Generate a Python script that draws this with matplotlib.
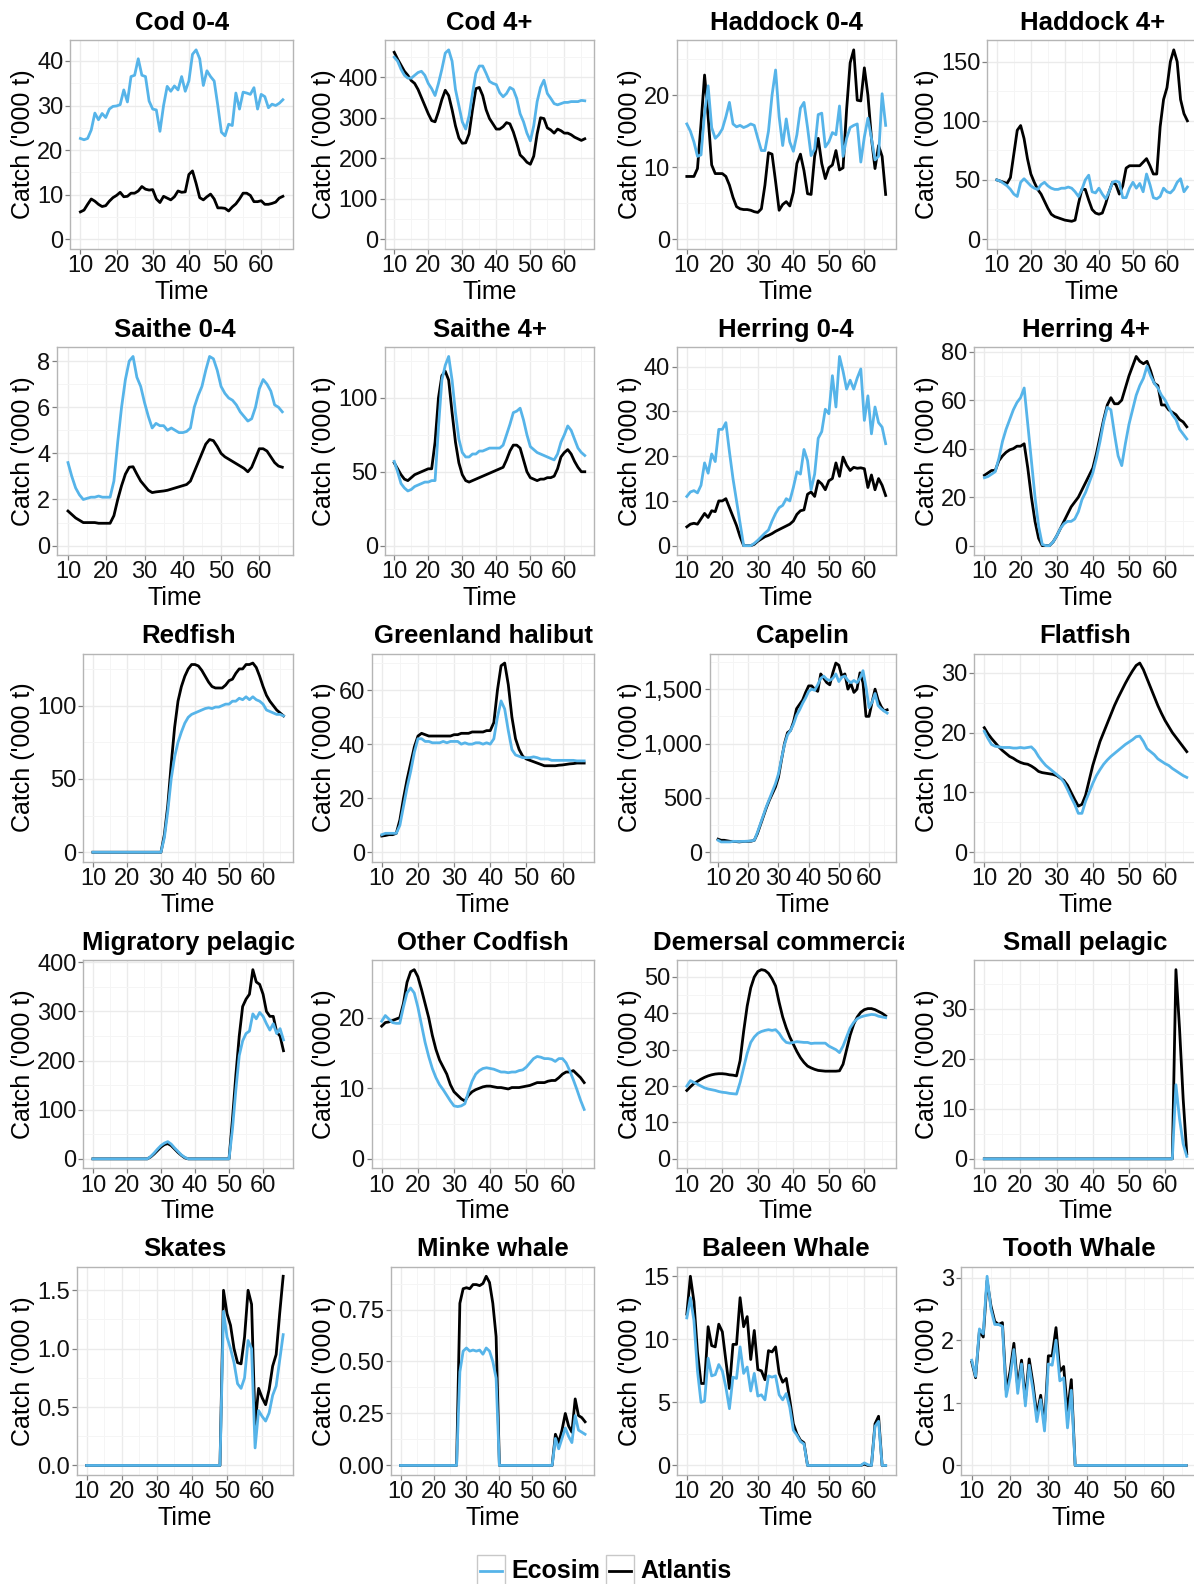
import matplotlib
matplotlib.use('Agg')
import matplotlib.pyplot as plt
from matplotlib.patches import Rectangle
from matplotlib.lines import Line2D
from matplotlib.transforms import Bbox, TransformedBbox
from matplotlib.ticker import FuncFormatter

plt.rcParams['font.family'] = ['Liberation Sans', 'DejaVu Sans']

years = list(range(10, 67))

# ---- catch series ('000 t), one value per year 10..66 ----
cod04_eco = [22.6, 22.3, 22.6, 24.5, 28.3, 26.8, 28.2, 27.3, 29.2, 29.8,
             29.9, 30.2, 33.5, 30.8, 36.5, 36.8, 40.5, 36.8, 36.5, 31.0,
             29.2, 29.0, 24.2, 30.0, 34.3, 33.2, 34.4, 33.5, 36.5, 33.2,
             35.5, 41.5, 42.5, 40.5, 34.5, 37.8, 36.5, 35.5, 30.0, 24.0,
             23.2, 25.8, 25.5, 32.8, 29.2, 33.0, 32.8, 32.5, 34.0, 29.2,
             32.5, 32.0, 29.5, 30.3, 30.0, 30.5, 31.3]
cod04_atl = [6.1, 6.5, 7.8, 9.0, 8.5, 7.8, 7.3, 7.5, 8.5, 9.3,
             9.8, 10.5, 9.5, 9.6, 10.3, 10.3, 10.8, 11.8, 11.2, 11.0,
             11.1, 9.0, 8.2, 9.6, 9.2, 8.8, 9.5, 10.8, 10.5, 10.6,
             14.5, 15.3, 12.5, 9.3, 8.8, 9.5, 10.1, 9.0, 7.0, 7.0,
             6.9, 6.3, 7.2, 7.9, 9.0, 10.3, 10.3, 9.8, 8.4, 8.4,
             8.6, 7.8, 7.8, 8.0, 8.3, 9.2, 9.6]

cod4p_eco = [450, 440, 420, 405, 398, 398, 405, 412, 415, 405,
             385, 372, 355, 385, 420, 460, 468, 440, 370, 330,
             290, 272, 305, 360, 410, 428, 428, 410, 390, 385,
             382, 362, 352, 360, 375, 370, 348, 310, 290, 262,
             243, 280, 340, 375, 393, 360, 348, 335, 332, 335,
             338, 338, 340, 340, 340, 343, 342]
cod4p_atl = [462, 445, 430, 415, 405, 392, 385, 370, 350, 330,
             310, 293, 290, 315, 345, 368, 355, 320, 280, 250,
             237, 238, 260, 320, 372, 375, 355, 320, 298, 285,
             272, 272, 278, 288, 285, 265, 238, 208, 200, 190,
             185, 205, 260, 300, 298, 275, 270, 262, 272, 268,
             262, 262, 258, 252, 248, 244, 248]

had04_eco = [16.0, 15.0, 13.5, 11.5, 11.7, 17.5, 21.3, 15.5, 14.0, 14.5,
             15.3, 17.0, 19.0, 16.0, 15.6, 15.8, 15.5, 15.7, 16.0, 15.8,
             14.0, 12.3, 12.3, 15.0, 20.0, 23.5, 17.0, 13.0, 16.7, 13.5,
             12.2, 14.5, 18.2, 19.0, 15.5, 11.6, 12.5, 17.3, 17.5, 12.8,
             13.5, 14.8, 14.5, 18.5, 11.5, 14.0, 15.5, 15.8, 16.0, 10.7,
             14.2, 16.8, 14.0, 11.0, 11.5, 20.2, 15.8]
had04_atl = [8.7, 8.7, 8.7, 9.8, 16.0, 22.8, 17.0, 10.3, 9.1, 9.1,
             9.1, 8.7, 7.5, 5.8, 4.5, 4.2, 4.1, 4.1, 4.0, 3.8,
             3.7, 4.2, 7.5, 12.0, 11.8, 8.0, 4.0, 4.8, 5.2, 4.6,
             6.5, 10.5, 11.8, 9.5, 6.3, 6.2, 11.5, 14.0, 10.5, 8.4,
             9.9, 10.3, 12.3, 9.6, 9.9, 18.0, 24.5, 26.3, 19.3, 19.2,
             23.8, 20.0, 14.0, 9.8, 13.0, 11.5, 6.2]

had4p_eco = [50, 49, 47, 45, 42, 38, 36, 48, 51, 48,
             45, 43, 42, 46, 48, 45, 43, 42, 42, 43,
             43, 44, 43, 40, 36, 42, 50, 54, 40, 39,
             43, 38, 34, 40, 48, 49, 48, 35, 35, 43,
             48, 43, 47, 40, 55, 46, 35, 34, 36, 43,
             40, 39, 42, 48, 51, 40, 44]
had4p_atl = [50, 49, 48, 47, 52, 72, 92, 96, 85, 68,
             55, 48, 42, 38, 32, 26, 21, 19, 18, 17,
             16, 15.5, 15, 16, 30, 42, 42, 33, 25, 22,
             21, 22, 30, 40, 48, 46, 38, 45, 60, 62,
             62, 62, 62, 65, 68, 62, 55, 55, 95, 118,
             128, 150, 160, 150, 118, 106, 100]

sai04_eco = [3.6, 3.0, 2.5, 2.2, 2.0, 2.05, 2.1, 2.1, 2.15, 2.1,
             2.1, 2.1, 2.8, 4.5, 6.0, 7.2, 8.0, 8.2, 7.3, 6.9,
             6.2, 5.6, 5.1, 5.3, 5.2, 5.2, 5.0, 5.1, 5.0, 4.9,
             4.9, 4.95, 5.1, 6.0, 6.5, 6.9, 7.6, 8.2, 8.1, 7.6,
             6.9, 6.6, 6.4, 6.3, 6.1, 5.8, 5.6, 5.4, 5.5, 6.0,
             6.8, 7.2, 7.0, 6.7, 6.1, 6.0, 5.8]
sai04_atl = [1.5, 1.35, 1.2, 1.1, 1.0, 1.0, 1.0, 1.0, 0.97, 0.97,
             0.97, 0.97, 1.3, 2.0, 2.6, 3.1, 3.4, 3.42, 3.1, 2.8,
             2.6, 2.4, 2.3, 2.33, 2.35, 2.37, 2.4, 2.45, 2.5, 2.55,
             2.6, 2.65, 2.8, 3.2, 3.6, 4.0, 4.4, 4.6, 4.55, 4.3,
             4.0, 3.85, 3.75, 3.65, 3.55, 3.45, 3.35, 3.2, 3.4, 3.8,
             4.2, 4.2, 4.1, 3.85, 3.6, 3.45, 3.4]

sai4p_eco = [57, 50, 42, 39, 37, 38, 40, 41, 42, 43,
             43, 44, 44, 80, 112, 122, 128, 112, 90, 72,
             63, 60, 60, 62, 62, 64, 64, 65, 66, 66,
             66, 66, 68, 75, 82, 90, 91, 93, 85, 75,
             67, 65, 63, 62, 61, 60, 59, 58, 62, 70,
             75, 81, 78, 72, 66, 63, 61]
sai4p_atl = [56, 52, 48, 45, 44, 46, 48, 49, 50, 51,
             52, 52, 70, 100, 115, 118, 112, 90, 70, 56,
             48, 44, 43, 44, 45, 46, 47, 48, 49, 50,
             51, 52, 53, 58, 64, 68, 68, 66, 58, 50,
             46, 45, 44, 45, 45, 46, 46, 47, 52, 60,
             63, 65, 62, 57, 53, 50, 50]

her04_eco = [11, 12, 12.3, 11.8, 13.5, 18.5, 16.2, 20.5, 18.8, 26,
             26, 27.5, 21, 15, 10, 5, 0, 0, 0, 0.5,
             1.2, 2, 2.8, 3.5, 5.5, 7.2, 8.5, 9, 10.5, 10,
             13, 16.5, 16, 21.5, 19, 12.5, 16, 24, 25.5, 30.5,
             29.5, 38, 31, 42.3, 39, 35, 37, 35, 37.5, 39.5,
             28, 33.5, 25, 31, 27.5, 26.5, 22.8]
her04_atl = [4.2, 4.8, 5, 4.8, 6, 7.2, 6.3, 7.8, 7.6, 10,
             10, 10.5, 8.5, 6.5, 4.5, 2, 0, 0, 0, 0.3,
             1, 1.5, 2, 2.3, 2.7, 3.2, 3.6, 4, 4.4, 4.8,
             5.5, 7, 7.8, 8, 11.5, 12, 11, 14.5, 13.8, 12.5,
             14.5, 15, 18.5, 15.5, 19.8, 18, 16.8, 17.5, 17.3, 17.4,
             17.2, 13, 15.8, 12.5, 15, 13.5, 11.2]

her4p_eco = [28, 28.5, 29.5, 30.5, 36, 43, 48, 52, 56, 59,
             61, 65, 50, 35, 20, 8, 0.5, 0, 0, 1.5,
             4, 7, 9, 10, 10, 11, 14, 19, 22, 26,
             30, 36, 43, 51, 57, 56, 46, 37, 33, 42,
             50, 56, 62, 66, 69, 74, 70, 67, 65, 62,
             60, 57, 54, 52, 48, 46, 44]
her4p_atl = [29, 30, 31, 31, 35, 37, 38.5, 39.5, 40, 41,
             41, 42, 32, 20, 10, 3, 0, 0, 0, 1.5,
             4, 7, 10, 13, 16, 18, 20, 23, 26, 29,
             32, 38, 45, 52, 58, 61, 58.5, 58.5, 60, 65,
             70, 74, 78, 76, 75, 76, 72, 67, 66, 58,
             58, 56, 55, 54, 52, 51, 49]

red_eco = [0] * 21 + [10, 28, 50, 65, 75, 82, 88, 92, 94,
                      95, 96, 97, 98, 98.5, 98, 99, 99, 100, 101,
                      101, 103, 103, 105, 104, 106, 104, 106, 104, 103,
                      101, 97, 96, 95, 94, 94, 93]
red_atl = [0] * 21 + [12, 32, 60, 85, 103, 113, 120, 125, 128,
                      128, 127, 124, 120, 116, 113, 112, 112, 112, 114,
                      117, 118, 122, 125, 125, 128, 128, 129, 126, 120,
                      113, 107, 103, 100, 97, 95, 93]

ghal_eco = [6.5, 7, 7, 7, 7, 10, 17, 24, 30, 37,
            42, 42, 41, 41, 40.5, 40.5, 40.5, 41, 40.5, 41,
            41, 41, 40, 40.5, 40, 40, 40.5, 40.5, 40, 40.5,
            40, 42, 50, 56, 53, 45, 38, 36, 35.5, 35,
            35, 35, 35.3, 35, 34.5, 34.5, 34.5, 34, 34, 34,
            34, 34, 34, 34, 33.8, 33.8, 33.8]
ghal_atl = [6, 6.2, 6.5, 6.5, 7, 12, 20, 27, 33, 39,
            43, 44, 43.5, 43, 43, 43, 43, 43, 43, 43,
            43.5, 43.5, 44, 44, 44, 44.5, 44.5, 44.5, 44.5, 45,
            45, 48, 60, 69, 70, 62, 50, 42, 38, 35.5,
            34.5, 34, 33.5, 33, 32.5, 32, 32, 32, 32, 32.2,
            32.3, 32.5, 32.7, 32.8, 33, 33, 33]

cap_eco = [110, 95, 95, 95, 95, 100, 100, 98, 100, 100,
           102, 105, 110, 180, 260, 340, 420, 490, 560, 630,
           720, 860, 990, 1080, 1120, 1180, 1260, 1310, 1370, 1420,
           1480, 1500, 1490, 1540, 1600, 1620, 1590, 1580, 1600, 1640,
           1570, 1610, 1620, 1580, 1560, 1580, 1560, 1600, 1670, 1520,
           1330, 1380, 1460, 1350, 1320, 1300, 1280]
cap_atl = [120, 110, 110, 105, 100, 100, 98, 95, 98, 100,
           100, 102, 110, 170, 250, 330, 410, 480, 540, 600,
           690, 850, 1000, 1100, 1120, 1200, 1320, 1360, 1400, 1470,
           1530, 1530, 1500, 1480, 1640, 1600, 1560, 1540, 1650, 1740,
           1720, 1620, 1640, 1500, 1550, 1470, 1500, 1650, 1560, 1250,
           1250, 1380, 1500, 1400, 1340, 1300, 1310]

flat_eco = [20.2, 19, 18, 17.7, 17.6, 17.5, 17.5, 17.5, 17.4, 17.4,
            17.5, 17.4, 17.5, 17.6, 17, 16, 15.2, 14.5, 14, 13.5,
            13, 12.5, 11.7, 10.5, 9.2, 8, 6.5, 6.5, 8.5, 10,
            11.5, 12.8, 13.8, 14.7, 15.4, 16, 16.5, 17, 17.5, 18,
            18.4, 18.8, 19.3, 19.4, 18.5, 17.3, 16.8, 16.3, 15.6, 15.2,
            14.8, 14.5, 14, 13.6, 13.2, 12.8, 12.5]
flat_atl = [20.8, 19.8, 19, 18.3, 17.6, 17, 16.5, 16, 15.7, 15.3,
            15, 14.8, 14.7, 14.4, 14, 13.5, 13.3, 13.2, 13.1, 13,
            12.8, 12.4, 12, 11.2, 10, 8.8, 7.7, 8, 9.5, 12,
            14.5, 16.5, 18.5, 20, 21.5, 23, 24.5, 25.8, 27, 28.2,
            29.3, 30.3, 31.2, 31.6, 30.5, 29, 27.5, 26, 24.5, 23.2,
            22, 21, 20, 19.2, 18.4, 17.6, 16.8]

migr_eco = [0] * 17 + [5, 12, 20, 27, 32, 35, 30, 22, 15, 8, 3] + [0] * 13 + \
           [60, 140, 210, 240, 255, 260, 295, 285, 298, 290, 275, 262, 275, 255, 265, 242]
migr_atl = [0] * 17 + [4, 10, 17, 24, 29, 31, 27, 20, 13, 7, 2] + [0] * 13 + \
           [80, 170, 250, 310, 325, 335, 385, 360, 355, 335, 300, 290, 290, 258, 250, 220]

ocod_eco = [19.5, 20.3, 19.8, 19.3, 19.2, 19.2, 21.5, 23.5, 24.2, 23.5,
            21.5, 19, 16.5, 14.5, 12.8, 11.5, 10.5, 9.8, 9, 8.2,
            7.5, 7.4, 7.5, 7.8, 9.5, 11, 12, 12.5, 12.8, 12.9,
            12.8, 12.7, 12.5, 12.3, 12.3, 12.2, 12.3, 12.3, 12.5, 12.6,
            13, 13.6, 14.2, 14.5, 14.4, 14.2, 14.2, 14.1, 13.8, 14.2,
            14.2, 13.6, 12.5, 11.2, 9.8, 8.3, 7.0]
ocod_atl = [18.8, 19.3, 19.4, 19.6, 19.8, 20, 22, 25, 26.5, 26.8,
            25.8, 24, 22, 20, 17.5, 15.5, 14, 13, 12, 10.5,
            9.5, 9, 8.5, 8.2, 9, 9.5, 9.8, 10, 10.2, 10.3,
            10.3, 10.2, 10.1, 10.1, 10, 9.9, 10.1, 10.1, 10.1, 10.2,
            10.3, 10.4, 10.6, 10.8, 10.8, 10.8, 11, 11.1, 11.1, 11.5,
            12, 12.3, 12.3, 12.5, 12, 11.5, 10.8]

dem_eco = [20, 21.5, 21, 20.5, 20, 19.5, 19.2, 19, 18.8, 18.5,
           18.3, 18.2, 18, 17.9, 17.8, 21, 25, 29, 32, 33.5,
           34.5, 35, 35.3, 35.5, 35.3, 35.5, 34.5, 33, 32, 31.8,
           32, 32.2, 32.1, 32, 32, 31.7, 31.8, 31.8, 31.8, 31.8,
           31, 30.5, 30, 29.2, 31, 33.5, 36, 37.5, 38.5, 39,
           39.3, 39.5, 39.7, 39.6, 39.2, 39, 38.8]
dem_atl = [18.8, 19.8, 20.7, 21.3, 21.9, 22.4, 22.8, 23.1, 23.3, 23.4,
           23.4, 23.3, 23.1, 23, 22.8, 27, 35, 42, 47, 50,
           51.5, 52, 51.8, 51, 49.5, 47.5, 43, 39, 36, 33.5,
           31.5, 29.5, 27.8, 26.5, 25.5, 25, 24.6, 24.3, 24.2, 24.1,
           24.1, 24.1, 24.1, 24.2, 26, 30, 34, 37, 39, 40.3,
           41, 41.3, 41.3, 41, 40.5, 40, 39.3]

spel_eco = [0] * 53 + [14.8, 8, 3, 0.5]
spel_atl = [0] * 53 + [37.8, 26, 12, 1]

skate_eco = [0] * 39 + [1.32, 1.1, 1.0, 0.88, 0.7, 0.66, 0.75, 1.07, 1.0, 0.15,
                        0.47, 0.42, 0.38, 0.45, 0.6, 0.68, 0.9, 1.12]
skate_atl = [0] * 39 + [1.5, 1.3, 1.2, 1.0, 0.88, 0.87, 1.1, 1.5, 1.38, 0.35,
                        0.66, 0.58, 0.52, 0.65, 0.85, 0.95, 1.3, 1.62]

minke_eco = [0] * 18 + [0.45, 0.55, 0.565, 0.55, 0.555, 0.55, 0.555, 0.535, 0.565, 0.55, 0.5, 0.42] + \
            [0] * 17 + [0.13, 0.08, 0.13, 0.18, 0.14, 0.11, 0.24, 0.17, 0.16, 0.15]
minke_atl = [0] * 18 + [0.78, 0.85, 0.855, 0.85, 0.87, 0.87, 0.865, 0.875, 0.91, 0.88, 0.78, 0.62] + \
            [0] * 17 + [0.15, 0.11, 0.17, 0.25, 0.19, 0.16, 0.32, 0.24, 0.23, 0.21]

baleen_eco = [11.7, 13.3, 11.5, 7.5, 5.0, 5.1, 8.5, 7.1, 7.2, 8.0,
              7.5, 6.2, 4.5, 7.0, 6.9, 9.4, 7.3, 7.8, 5.9, 7.3,
              5.5, 5.6, 5.2, 7.1, 7.0, 7.1, 5.6, 5.2, 5.7, 4.6,
              2.8, 2.4, 1.9, 1.7] + [0] * 16 + [0.2, 0.05, 0, 3.1, 3.5, 0, 0]
baleen_atl = [12.0, 15.0, 13.0, 9.0, 6.5, 6.5, 11.0, 9.5, 9.4, 11.2,
              10.6, 8.3, 6.1, 9.6, 9.6, 13.3, 11.0, 11.8, 8.4, 10.7,
              7.6, 7.5, 6.8, 9.1, 9.0, 9.4, 7.3, 6.6, 6.9, 5.2,
              3.3, 2.5, 2.0, 1.8] + [0] * 16 + [0.1, 0, 0, 3.3, 3.9, 0, 0]

tooth_eco = [1.68, 1.42, 2.18, 2.1, 3.02, 2.5, 2.25, 2.25, 2.22, 1.1,
             1.4, 1.85, 1.15, 1.62, 0.95, 1.6, 1.2, 0.7, 1.05, 0.55,
             1.62, 1.6, 2.0, 1.35, 1.4, 0.6, 1.2] + [0] * 30
tooth_atl = [1.65, 1.4, 2.15, 2.05, 2.95, 2.55, 2.3, 2.25, 2.28, 1.2,
             1.5, 1.95, 1.25, 1.68, 1.05, 1.7, 1.3, 0.8, 1.12, 0.65,
             1.75, 1.75, 2.2, 1.5, 1.58, 0.85, 1.37] + [0] * 30

x_ticks = [10, 20, 30, 40, 50, 60]

panels = [
    ('Cod 0-4', cod04_eco, cod04_atl, [0, 10, 20, 30, 40], '{:.0f}'),
    ('Cod 4+', cod4p_eco, cod4p_atl, [0, 100, 200, 300, 400], '{:.0f}'),
    ('Haddock 0-4', had04_eco, had04_atl, [0, 10, 20], '{:.0f}'),
    ('Haddock 4+', had4p_eco, had4p_atl, [0, 50, 100, 150], '{:.0f}'),
    ('Saithe 0-4', sai04_eco, sai04_atl, [0, 2, 4, 6, 8], '{:.0f}'),
    ('Saithe 4+', sai4p_eco, sai4p_atl, [0, 50, 100], '{:.0f}'),
    ('Herring 0-4', her04_eco, her04_atl, [0, 10, 20, 30, 40], '{:.0f}'),
    ('Herring 4+', her4p_eco, her4p_atl, [0, 20, 40, 60, 80], '{:.0f}'),
    ('Redfish', red_eco, red_atl, [0, 50, 100], '{:.0f}'),
    ('Greenland halibut', ghal_eco, ghal_atl, [0, 20, 40, 60], '{:.0f}'),
    ('Capelin', cap_eco, cap_atl, [0, 500, 1000, 1500], '{:,.0f}'),
    ('Flatfish', flat_eco, flat_atl, [0, 10, 20, 30], '{:.0f}'),
    ('Migratory pelagic', migr_eco, migr_atl, [0, 100, 200, 300, 400], '{:.0f}'),
    ('Other Codfish', ocod_eco, ocod_atl, [0, 10, 20], '{:.0f}'),
    ('Demersal commercial', dem_eco, dem_atl, [0, 10, 20, 30, 40, 50], '{:.0f}'),
    ('Small pelagic', spel_eco, spel_atl, [0, 10, 20, 30], '{:.0f}'),
    ('Skates', skate_eco, skate_atl, [0, 0.5, 1.0, 1.5], '{:.1f}'),
    ('Minke whale', minke_eco, minke_atl, [0, 0.25, 0.5, 0.75], '{:.2f}'),
    ('Baleen Whale', baleen_eco, baleen_atl, [0, 5, 10, 15], '{:.0f}'),
    ('Tooth Whale', tooth_eco, tooth_atl, [0, 1, 2, 3], '{:.0f}'),
]

ECO = '#56B4E9'
ATL = '#000000'

W, H = 1194, 1584
fig = plt.figure(figsize=(W / 100, H / 100), dpi=100)

col_pitch = 301.3
row_pitch = 306.6
col_pad = [11, 11, 15, 11]   # gap between cell edge and y label, per column

axes = []
for i, (title, eco, atl, yt, fmt) in enumerate(panels):
    if len(eco) != len(years) or len(atl) != len(years):
        raise ValueError(title + ' length mismatch')
    r, c = divmod(i, 4)
    right = 293 + col_pitch * c
    top = 40.4 + row_pitch * r
    bottom = 248.5 + row_pitch * r
    left = right - 200
    ax = fig.add_axes([left / W, 1 - bottom / H, (right - left) / W, (bottom - top) / H])

    ax.plot(years, atl, color=ATL, lw=2.0, zorder=3, solid_joinstyle='round')
    ax.plot(years, eco, color=ECO, lw=2.0, zorder=4, solid_joinstyle='round')

    # ggplot-like limits: range includes 0, expanded by 5 % on each side
    xspan = years[-1] - years[0]
    x0, x1 = years[0] - 0.05 * xspan, years[-1] + 0.05 * xspan
    ytop = max(max(eco), max(atl))
    y0, y1 = -0.05 * ytop, 1.05 * ytop

    ax.set_xticks(x_ticks)
    ax.set_xticks([v for v in range(5, 75, 10) if x0 <= v <= x1], minor=True)
    step = yt[1] - yt[0]
    ymin = [yt[0] - step / 2 + k * step for k in range(len(yt) + 1)]
    ax.set_yticks(yt)
    ax.set_yticks([v for v in ymin if y0 <= v <= y1], minor=True)
    ax.set_xlim(x0, x1)
    ax.set_ylim(y0, y1)
    ax.yaxis.set_major_formatter(FuncFormatter(lambda v, p, f=fmt: f.format(v)))

    ax.tick_params(which='major', direction='out', length=3.5, width=0.9,
                   color='#808080', labelsize=17, labelcolor='#111111')
    ax.tick_params(axis='x', which='major', pad=1.0)
    ax.tick_params(axis='y', which='major', pad=1.5)
    ax.tick_params(which='minor', length=0)
    ax.grid(True, which='major', color='#EBEBEB', lw=1.0)
    ax.grid(True, which='minor', color='#F5F5F5', lw=0.7)
    ax.set_axisbelow(True)
    for s in ax.spines.values():
        s.set_color('#B5B5B5')
        s.set_linewidth(1.0)

    ax.set_xlabel('Time', fontsize=18, labelpad=2, color='#000000')
    ax.set_ylabel("Catch ('000 t)", fontsize=18, labelpad=1.5, color='#000000')
    ttl = ax.set_title(title, fontsize=18.5, fontweight='bold', pad=7.5)
    axes.append((ax, ttl, c, right))

# shift each panel so its y label sits at the left of its cell
fig.canvas.draw()
renderer = fig.canvas.get_renderer()
for ax, ttl, c, right in axes:
    bb = ax.yaxis.get_tightbbox(renderer)
    pos = ax.get_position()
    extent = pos.x0 * W - bb.x0
    cell_left = col_pitch * c
    new_left = cell_left + col_pad[c] + extent
    ax.set_position([new_left / W, pos.y0, (right - new_left) / W, pos.height])
    clip = TransformedBbox(Bbox.from_extents(cell_left / W, 0, (cell_left + col_pitch) / W, 1),
                           fig.transFigure)
    ttl.set_clip_box(clip)
    ttl.set_clip_on(True)

# legend at the bottom
ly = 1 - 1571 / H
for bx, colr, label in [(477, ECO, 'Ecosim'), (606, ATL, 'Atlantis')]:
    fig.add_artist(Rectangle((bx / W, 1 - 1600 / H), 28 / W, 45 / H, transform=fig.transFigure,
                             fill=False, edgecolor='#C8C8C8', lw=1.0))
    fig.add_artist(Line2D([(bx + 3) / W, (bx + 25) / W], [ly, ly], transform=fig.transFigure,
                          color=colr, lw=2.0))
    fig.text((bx + 34) / W, ly, label, fontsize=18, fontweight='bold', va='center', ha='left')

fig.savefig('out.png', dpi=100)
